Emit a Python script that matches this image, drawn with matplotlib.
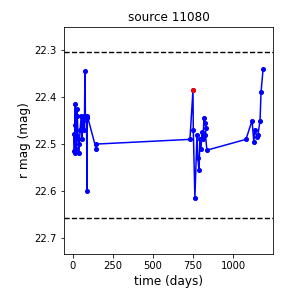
import matplotlib
matplotlib.use("Agg")
import matplotlib.pyplot as plt

# light curve data (days, r mag)
days = [5, 8, 10, 12, 15, 18, 20, 24, 28, 32, 36, 40, 45, 52, 58, 62, 68, 72,
        75, 78, 85, 88, 90, 145, 147,
        731, 750, 752, 762, 775, 781, 787, 794, 800, 806, 812, 819, 825, 831, 828, 837,
        1081, 1119, 1130, 1137, 1150, 1156, 1169, 1175, 1188]
mags = [22.478, 22.515, 22.52, 22.46, 22.415, 22.48, 22.51, 22.425, 22.44, 22.49,
        22.52, 22.50, 22.47, 22.44, 22.49, 22.45, 22.44, 22.47,
        22.345, 22.44, 22.445, 22.60, 22.44, 22.51, 22.50,
        22.49, 22.385, 22.47, 22.615, 22.48, 22.53, 22.555, 22.49, 22.51, 22.475,
        22.49, 22.445, 22.455, 22.465, 22.48, 22.513,
        22.49, 22.45, 22.495, 22.47, 22.485, 22.48, 22.45, 22.39, 22.34]

flag_day = [750]
flag_mag = [22.385]

upper_limit = 22.305
lower_limit = 22.657

fig = plt.figure(figsize=(4, 4), dpi=72)
ax = fig.add_axes([0.222, 0.118, 0.726, 0.788])

ax.plot(days, mags, "o-", color="blue", markersize=4, linewidth=1.5)
ax.plot(flag_day, flag_mag, "o", color="red", markersize=4)
ax.axhline(upper_limit, color="k", linestyle="--", linewidth=1.4)
ax.axhline(lower_limit, color="k", linestyle="--", linewidth=1.4)

ax.set_xlim(-56, 1250)
ax.set_ylim(22.734, 22.251)
ax.set_xticks([0, 250, 500, 750, 1000])
ax.set_yticks([22.3, 22.4, 22.5, 22.6, 22.7])
ax.tick_params(labelsize=10)
ax.set_xlabel("time (days)", fontsize=12)
ax.set_ylabel("r mag (mag)", fontsize=12)
ax.set_title("source 11080", fontsize=12)

fig.savefig("out.png", dpi=72)
